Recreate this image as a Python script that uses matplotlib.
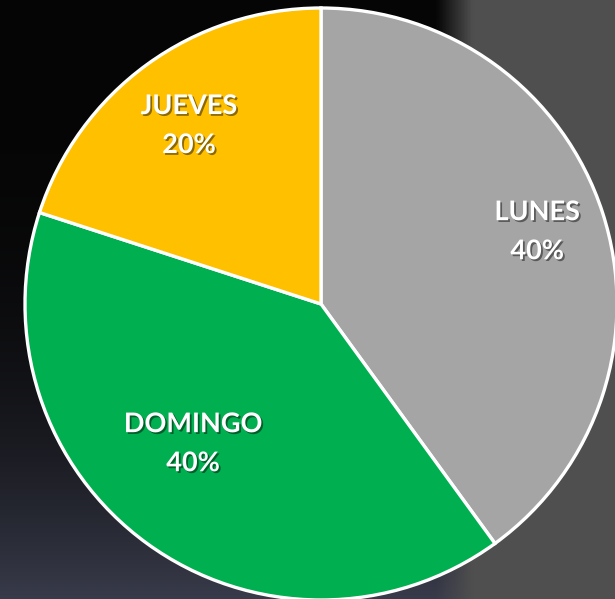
import numpy as np
import matplotlib.pyplot as plt
import matplotlib.patheffects as pe

# data
dias = ['LUNES', 'DOMINGO', 'JUEVES']
valores = [40, 40, 20]
colores = ['#A5A5A5', '#00B050', '#FFC000']

# label placement tweaks (radius fraction, angle offset in degrees)
lbl_dist = [0.77, 0.64, 0.75]
lbl_rot = [0.5, -6.5, 0.5]

W, H = 615, 599
fig = plt.figure(figsize=(W / 100, H / 100), dpi=100)
ax = fig.add_axes([0, 0, 1, 1])

# dark photo-like background: black on the left, flat grey on the right
xs = np.linspace(0, 1, 200)
ys = np.linspace(0, 1, 200)
X, Y = np.meshgrid(xs, ys)   # Y = 0 at top row
t = np.clip((X - 0.71) / 0.06, 0, 1)
left = np.zeros((200, 200, 3))
left[..., 0] = 0.02 + 0.20 * Y ** 3
left[..., 1] = 0.02 + 0.21 * Y ** 3
left[..., 2] = 0.02 + 0.27 * Y ** 3
right = np.ones((200, 200, 3)) * 0.31
bg = left * (1 - t[..., None]) + right * t[..., None]
ax.imshow(bg, extent=(0, W, 0, H), origin='upper', zorder=0, aspect='auto')

cx, cy, r = 321, H - 304, 296
wedges, _ = ax.pie(valores, colors=colores, startangle=90, counterclock=False,
                   center=(cx, cy), radius=r, frame=True,
                   wedgeprops=dict(edgecolor='white', linewidth=2.4))
for w in wedges:
    w.set_zorder(2)
ax.set_xlim(0, W)
ax.set_ylim(0, H)
ax.set_aspect('equal')
ax.axis('off')

sombra = [pe.withSimplePatchShadow(offset=(1.3, -1.3), shadow_rgbFace='black', alpha=0.45)]
for w, nombre, v, d, rot in zip(wedges, dias, valores, lbl_dist, lbl_rot):
    ang = np.deg2rad((w.theta1 + w.theta2) / 2 + rot)
    x = cx + d * r * np.cos(ang)
    y = cy + d * r * np.sin(ang)
    ax.text(x, y, f'{nombre}\n{v}%', ha='center', va='center', color='white',
            fontsize=19.5, fontweight='bold', family='Lato', linespacing=1.75,
            path_effects=sombra, zorder=5)

fig.savefig('out.png', dpi=100)
